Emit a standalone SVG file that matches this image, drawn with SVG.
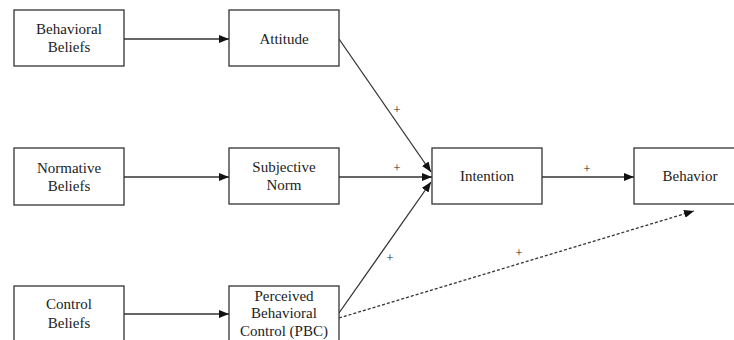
<svg xmlns="http://www.w3.org/2000/svg" width="734" height="340" viewBox="0 0 734 340" font-family="Liberation Serif, Times New Roman, serif">
<style>
.box{fill:#fff;stroke:#333;stroke-width:1.3}
text{fill:#222;text-anchor:middle}
.t{font-size:15px}
.p{font-size:13px}
.c{stroke:#333;stroke-width:1.3;fill:none}
.d{stroke-dasharray:3,2}
</style>
<defs>
<marker id="ah" viewBox="0 0 10 8" refX="10" refY="4" markerWidth="10" markerHeight="8" markerUnits="userSpaceOnUse" orient="auto">
<path d="M0,0 L10,4 L0,8 Z" fill="#111"/>
</marker>
</defs>
<rect width="734" height="340" fill="#fff"/>
<g id="connectors">
<line class="c" x1="124" y1="39" x2="229" y2="39" marker-end="url(#ah)"/>
<line class="c" x1="124" y1="177" x2="229" y2="177" marker-end="url(#ah)"/>
<line class="c" x1="124" y1="314" x2="229" y2="314" marker-end="url(#ah)"/>
<line class="c" x1="339" y1="39" x2="431" y2="172" marker-end="url(#ah)"/>
<line class="c" x1="339" y1="177" x2="432" y2="177" marker-end="url(#ah)"/>
<line class="c" x1="339" y1="313" x2="431" y2="182" marker-end="url(#ah)"/>
<line class="c" x1="542" y1="177" x2="634" y2="177" marker-end="url(#ah)"/>
<line class="c d" x1="339" y1="318" x2="694" y2="211" marker-end="url(#ah)"/>
<text class="p" x="397" y="114">+</text>
<text class="p" x="397" y="172">+</text>
<text class="p" x="390" y="262">+</text>
<text class="p" x="587" y="173">+</text>
<text class="p" x="519" y="257">+</text>
</g>
<g id="behavioral-beliefs">
<rect class="box" x="14" y="10" width="110" height="56"/>
<text class="t" x="69" y="34">Behavioral</text>
<text class="t" x="69" y="52">Beliefs</text>
</g>
<g id="attitude">
<rect class="box" x="229" y="10" width="110" height="56"/>
<text class="t" x="284" y="44">Attitude</text>
</g>
<g id="normative-beliefs">
<rect class="box" x="14" y="148" width="110" height="57"/>
<text class="t" x="69" y="173">Normative</text>
<text class="t" x="69" y="191">Beliefs</text>
</g>
<g id="subjective-norm">
<rect class="box" x="229" y="148" width="110" height="56"/>
<text class="t" x="284" y="172">Subjective</text>
<text class="t" x="284" y="190">Norm</text>
</g>
<g id="intention">
<rect class="box" x="432" y="148" width="110" height="56"/>
<text class="t" x="487" y="181">Intention</text>
</g>
<g id="behavior">
<rect class="box" x="634" y="148" width="110" height="56"/>
<text class="t" x="690" y="181">Behavior</text>
</g>
<g id="control-beliefs">
<rect class="box" x="14" y="286" width="110" height="70"/>
<text class="t" x="69" y="309">Control</text>
<text class="t" x="69" y="328">Beliefs</text>
</g>
<g id="pbc">
<rect class="box" x="229" y="286" width="110" height="70"/>
<text class="t" x="284" y="301">Perceived</text>
<text class="t" x="284" y="318">Behavioral</text>
<text class="t" x="284" y="336">Control (PBC)</text>
</g>
</svg>
